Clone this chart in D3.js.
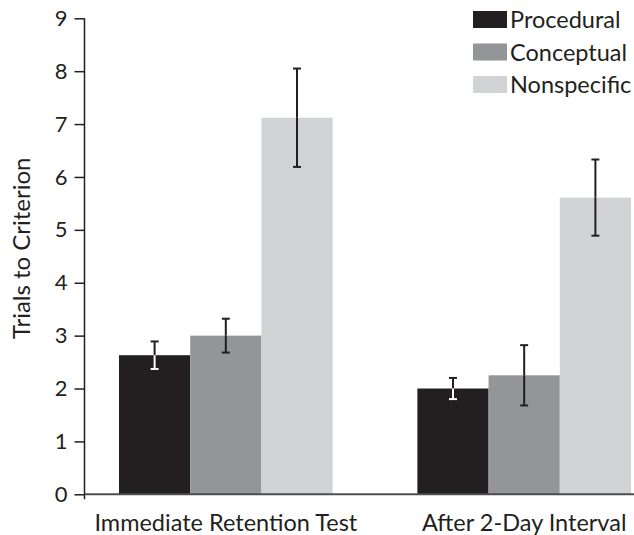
<!DOCTYPE html>
<html>
<head>
<meta charset="utf-8">
<script src="https://cdn.jsdelivr.net/npm/d3@7"></script>
<style>
  html, body { margin: 0; padding: 0; background: #fff; }
  svg { display: block; font-family: Lato, "Open Sans", sans-serif; }
</style>
</head>
<body>
<svg id="chart" width="634" height="535"></svg>
<script>
const groups = ["Immediate Retention Test", "After 2-Day Interval"];
const seriesNames = ["Procedural", "Conceptual", "Nonspecific"];
const procedural = [2.63, 2.0];
const conceptual = [3.0, 2.25];
const nonspecific = [7.12, 5.61];
const proceduralErr = [0.26, 0.2];
const conceptualErr = [0.32, 0.57];
const nonspecificErr = [0.93, 0.72];
const yTicks = [0, 1, 2, 3, 4, 5, 6, 7, 8, 9];
const colors = ["#231f20", "#939598", "#d1d3d4"];

const values = [procedural, conceptual, nonspecific];
const errs = [proceduralErr, conceptualErr, nonspecificErr];

const svg = d3.select("#chart");
const y = d3.scaleLinear().domain([0, 9]).range([494.3, 18.3]);
const x0 = d3.scaleBand().domain(groups).range([119, 631]).paddingInner(0.284).paddingOuter(0);
const x1 = d3.scaleBand().domain(seriesNames).range([0, x0.bandwidth()]);

const data = [];
groups.forEach((g, gi) => {
  seriesNames.forEach((s, si) => {
    data.push({g, s, si, v: values[si][gi], e: errs[si][gi]});
  });
});

// bars
svg.append("g").selectAll("rect").data(data).join("rect")
  .attr("x", d => x0(d.g) + x1(d.s))
  .attr("y", d => y(d.v))
  .attr("width", x1.bandwidth())
  .attr("height", d => y(0) - y(d.v))
  .attr("fill", d => colors[d.si]);

// error bars
const eb = svg.append("g").selectAll("g").data(data).join("g")
  .attr("transform", d => `translate(${x0(d.g) + x1(d.s) + x1.bandwidth() / 2},0)`);
const inner = d => d.si === 0 ? "#ffffff" : "#231f20";
eb.append("line")
  .attr("x1", 0).attr("x2", 0)
  .attr("y1", d => y(d.v + d.e)).attr("y2", d => y(d.v))
  .attr("stroke", "#231f20").attr("stroke-width", 2);
eb.append("line")
  .attr("x1", 0).attr("x2", 0)
  .attr("y1", d => y(d.v)).attr("y2", d => y(d.v - d.e))
  .attr("stroke", inner).attr("stroke-width", 2);
eb.append("line")
  .attr("x1", -4).attr("x2", 4)
  .attr("y1", d => y(d.v + d.e)).attr("y2", d => y(d.v + d.e))
  .attr("stroke", "#231f20").attr("stroke-width", 2);
eb.append("line")
  .attr("x1", -4).attr("x2", 4)
  .attr("y1", d => y(d.v - d.e)).attr("y2", d => y(d.v - d.e))
  .attr("stroke", inner).attr("stroke-width", 2);

// y axis
const yAxis = d3.axisLeft(y).tickValues(yTicks).tickSize(10).tickPadding(7).tickSizeOuter(0);
const yg = svg.append("g").attr("transform", "translate(84.5,0)").call(yAxis);
yg.select(".domain").remove();
yg.append("line").attr("x1", 0).attr("x2", 0).attr("y1", y(9)).attr("y2", y(0) + 5)
  .attr("stroke", "#231f20").attr("stroke-width", 1.5);
yg.selectAll(".tick line").attr("stroke", "#231f20").attr("stroke-width", 1.5);
yg.selectAll(".tick text").attr("fill", "#231f20").style("font-size", "22px")
  .style("font-family", "Lato, 'Open Sans', sans-serif");

// x axis
const xAxis = d3.axisBottom(x0).tickSize(0).tickPadding(20);
const xg = svg.append("g").attr("transform", `translate(0,${y(0)})`).call(xAxis);
xg.select(".domain").remove();
xg.append("line").attr("x1", 84.5).attr("x2", 634).attr("y1", 0).attr("y2", 0)
  .attr("stroke", "#4d4d4f").attr("stroke-width", 2);
xg.selectAll(".tick text").attr("fill", "#231f20").style("font-size", "23.5px")
  .style("font-family", "Lato, 'Open Sans', sans-serif");

// y label
svg.append("text")
  .attr("transform", `translate(30,${(y(0) + y(9)) / 2 - 8}) rotate(-90)`)
  .attr("text-anchor", "middle")
  .attr("fill", "#231f20")
  .style("font-size", "24px")
  .text("Trials to Criterion");

// legend
const lg = svg.append("g").selectAll("g").data(seriesNames).join("g")
  .attr("transform", (d, i) => `translate(473,${11 + i * 32.5})`);
lg.append("rect").attr("width", 34).attr("height", 17).attr("fill", (d, i) => colors[i]);
lg.append("text").attr("x", 37).attr("y", 17).attr("fill", "#231f20")
  .style("font-size", "23.5px").text(d => d);
</script>
</body>
</html>
